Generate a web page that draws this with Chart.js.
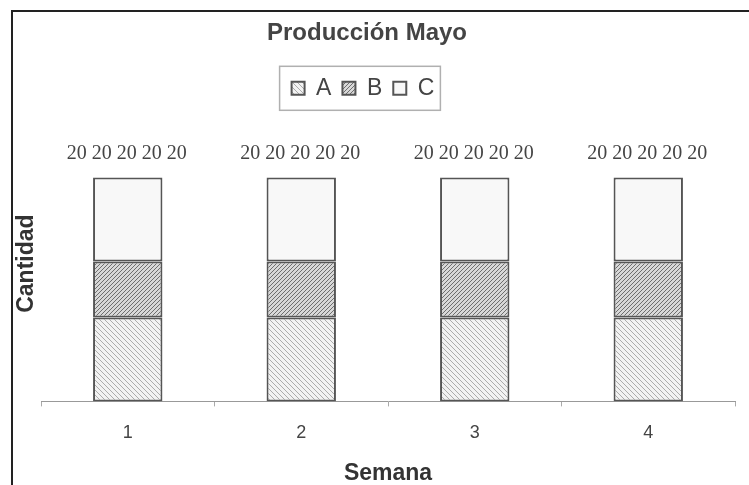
<html>
<head>
<meta charset="utf-8">
<title>Producción Mayo</title>
<script src="https://cdn.jsdelivr.net/npm/chart.js@4.4.1/dist/chart.umd.min.js"></script>
<style type="text/css">
  body {
    margin: 0;
    background: #ffffff;
  }
  #wrap {
    width: 749px;
    height: 485px;
  }
</style>
</head>
<body>

<div id="wrap">
  <canvas id="grafico" width="749" height="485"></canvas>
</div>

<script>
// datos
var semanas = ['1', '2', '3', '4'];
var serieA = [30, 30, 30, 30];
var serieB = [20, 20, 20, 20];
var serieC = [30, 30, 30, 30];
var etiquetas = ['20', '20', '20', '20', '20'];

// rayado para las barras
function rayado(fondo, linea, dir, paso, grosor) {
  var c = document.createElement('canvas');
  c.width = paso;
  c.height = paso;
  var g = c.getContext('2d');
  g.fillStyle = fondo;
  g.fillRect(0, 0, paso, paso);
  g.strokeStyle = linea;
  g.lineWidth = grosor;
  g.beginPath();
  if (dir == '/') {
    g.moveTo(0, paso); g.lineTo(paso, 0);
    g.moveTo(-paso, paso); g.lineTo(paso, -paso);
    g.moveTo(0, 2 * paso); g.lineTo(2 * paso, 0);
  } else {
    g.moveTo(0, 0); g.lineTo(paso, paso);
    g.moveTo(-paso, 0); g.lineTo(paso, 2 * paso);
    g.moveTo(0, -paso); g.lineTo(2 * paso, paso);
  }
  g.stroke();
  return g.createPattern(c, 'repeat');
}

var patA = rayado('#f2f2f2', '#ababab', '\\', 5, 1);
var patB = rayado('#d8d8d8', '#6e6e6e', '/', 4, 1);
var colC = '#f8f8f8';

// marco superior e izquierdo
var marco = {
  id: 'marco',
  beforeDraw: function(chart) {
    var ctx = chart.ctx;
    ctx.save();
    ctx.fillStyle = '#ffffff';
    ctx.fillRect(0, 0, chart.width, chart.height);
    ctx.strokeStyle = '#222222';
    ctx.lineWidth = 2;
    ctx.beginPath();
    ctx.moveTo(12, chart.height);
    ctx.lineTo(12, 11);
    ctx.lineTo(chart.width, 11);
    ctx.stroke();
    ctx.restore();
  }
};

// mas espacio bajo la leyenda, y titulo/leyenda un poco a la izquierda
var desplazar = {
  id: 'desplazar',
  beforeLayout: function(chart) {
    var ley = chart.legend;
    if (ley && !ley._parcheado) {
      var fitOriginal = ley.fit;
      ley.fit = function() {
        fitOriginal.call(this);
        this.height += 16;
      };
      ley._parcheado = true;
    }
  },
  afterLayout: function(chart) {
    chart.titleBlock.left -= 8;
    chart.titleBlock.right -= 8;
    chart.legend.left -= 12;
    chart.legend.right -= 12;
  }
};

// recuadro de la leyenda
var cajaLeyenda = {
  id: 'cajaLeyenda',
  afterDraw: function(chart) {
    var cajas = chart.legend.legendHitBoxes;
    if (!cajas || !cajas.length) return;
    var x0 = cajas[0].left, x1 = 0, y0 = cajas[0].top, y1 = 0;
    cajas.forEach(function(b) {
      x0 = Math.min(x0, b.left);
      x1 = Math.max(x1, b.left + b.width);
      y0 = Math.min(y0, b.top);
      y1 = Math.max(y1, b.top + b.height);
    });
    var ctx = chart.ctx;
    ctx.save();
    ctx.strokeStyle = '#b0b0b0';
    ctx.lineWidth = 1.5;
    var cy = (y0 + y1) / 2;
    ctx.strokeRect(x0 - 12, cy - 22, (x1 - x0) + 18, 44);
    ctx.restore();
  }
};

// etiquetas sobre cada barra
var etiquetasBarras = {
  id: 'etiquetasBarras',
  afterDatasetsDraw: function(chart) {
    var ctx = chart.ctx;
    var ultimo = chart.getDatasetMeta(chart.data.datasets.length - 1);
    ctx.save();
    ctx.font = '20px "Liberation Serif"';
    ctx.fillStyle = '#444444';
    ctx.textAlign = 'center';
    ctx.textBaseline = 'middle';
    ultimo.data.forEach(function(bar) {
      ctx.fillText(etiquetas.join(' '), bar.x - 1, bar.y - 24);
    });
    ctx.restore();
  }
};

var ctx = document.getElementById('grafico').getContext('2d');
var grafico = new Chart(ctx, {
  type: 'bar',
  data: {
    labels: semanas,
    datasets: [
      { label: 'A', data: serieA, backgroundColor: patA, borderColor: '#555555', borderWidth: 2, borderSkipped: false },
      { label: 'B', data: serieB, backgroundColor: patB, borderColor: '#555555', borderWidth: 2, borderSkipped: false },
      { label: 'C', data: serieC, backgroundColor: colC, borderColor: '#555555', borderWidth: 2, borderSkipped: false }
    ]
  },
  options: {
    responsive: false,
    animation: false,
    datasets: {
      bar: { barPercentage: 0.4, categoryPercentage: 1.0 }
    },
    layout: {
      padding: { left: 15, right: 14, top: 0, bottom: 0 }
    },
    plugins: {
      title: {
        display: true,
        text: 'Producción Mayo',
        color: '#444444',
        font: { family: '"Liberation Sans"', size: 24, weight: 'bold' },
        padding: { top: 19, bottom: 18 }
      },
      legend: {
        display: true,
        position: 'top',
        labels: {
          color: '#444444',
          font: { family: '"Liberation Sans"', size: 23 },
          boxWidth: 13,
          boxHeight: 13,
          padding: 11
        }
      },
      tooltip: { enabled: false }
    },
    scales: {
      x: {
        stacked: true,
        grid: { display: true, drawOnChartArea: false, drawTicks: true, offset: true, tickLength: 5, color: '#aaaaaa' },
        border: { display: true, color: '#999999', width: 1 },
        ticks: { color: '#444444', padding: 16, font: { family: '"Liberation Sans"', size: 18 } },
        title: {
          display: true,
          text: 'Semana',
          color: '#333333',
          font: { family: '"Liberation Sans"', size: 23, weight: 'bold', lineHeight: 1 },
          padding: { top: 2, bottom: 0 }
        }
      },
      y: {
        stacked: true,
        min: 0,
        max: 98.5,
        grid: { display: false },
        border: { display: false },
        ticks: { display: false },
        title: {
          display: true,
          text: 'Cantidad',
          color: '#333333',
          font: { family: '"Liberation Sans"', size: 23, weight: 'bold', lineHeight: 1 },
          padding: { top: 0, bottom: -5 }
        }
      }
    }
  },
  plugins: [marco, desplazar, cajaLeyenda, etiquetasBarras]
});
</script>

</body>
</html>
